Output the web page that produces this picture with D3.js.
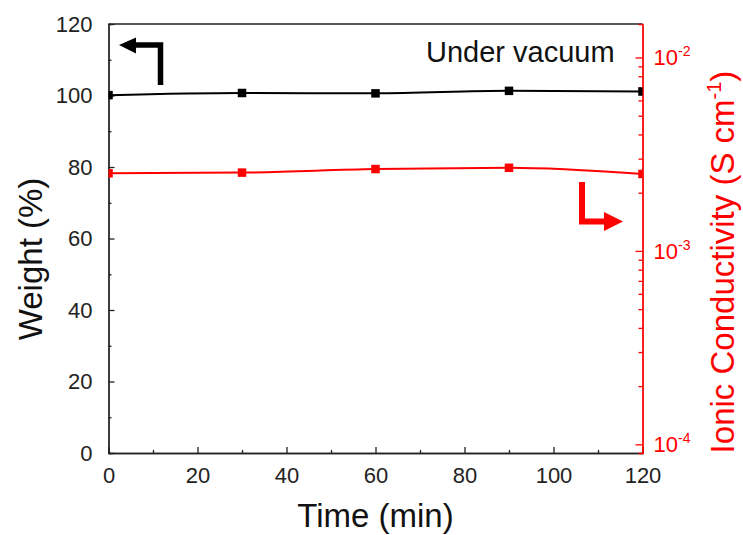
<!DOCTYPE html>
<html>
<head>
<meta charset="utf-8">
<script src="https://cdn.jsdelivr.net/npm/d3@7"></script>
<style>
  body { margin: 0; background: #fff; }
  svg { display: block; font-family: Arial, "Liberation Sans", sans-serif; }
</style>
</head>
<body>
<svg id="chart" width="743" height="535"></svg>
<script>
// 数据
const times = [0, 30, 60, 90, 120];
const weight = [100.1, 100.7, 100.6, 101.3, 101.1];
const conductivity = [2.52e-3, 2.54e-3, 2.65e-3, 2.69e-3, 2.50e-3];
const timeTicks = [0, 20, 40, 60, 80, 100, 120];
const weightTicks = [0, 20, 40, 60, 80, 100, 120];
const condTicks = [1e-4, 1e-3, 1e-2];

const W = 743, H = 535;
const margin = {top: 24, right: 100.5, bottom: 82, left: 108.5};
const red = "#ff0000";

const svg = d3.select("#chart");

const x = d3.scaleLinear().domain([0, 120]).range([margin.left, W - margin.right]);
const yL = d3.scaleLinear().domain([0, 120]).range([H - margin.bottom, margin.top]);
const yR = d3.scaleLog().domain([9.02e-5, 1.49e-2]).range([H - margin.bottom, margin.top]);

// 裁剪区域
svg.append("clipPath").attr("id", "clip")
  .append("rect")
  .attr("x", margin.left).attr("y", margin.top)
  .attr("width", W - margin.left - margin.right)
  .attr("height", H - margin.top - margin.bottom);

// 次刻度
const minorX = d3.range(10, 120, 20);
const minorL = d3.range(10, 120, 20);
const minorR = [];
[-5, -4, -3, -2].forEach(e => {
  for (let k = 2; k <= 9; k++) {
    const v = k * Math.pow(10, e);
    if (v > yR.domain()[0] && v < yR.domain()[1]) minorR.push(v);
  }
});

// 底部坐标轴
const gx = svg.append("g").attr("transform", `translate(0,${H - margin.bottom})`);
gx.call(d3.axisBottom(x).tickValues(timeTicks).tickSizeInner(-6).tickSizeOuter(0).tickPadding(14));
gx.append("g").call(d3.axisBottom(x).tickValues(minorX).tickSize(-3).tickFormat(""));
gx.selectAll("path, line").attr("stroke", "#222").attr("stroke-width", 1.3);
gx.selectAll("text").attr("fill", "#222").style("font-size", "22px");

// 左侧坐标轴
const gl = svg.append("g").attr("transform", `translate(${margin.left},0)`);
gl.call(d3.axisLeft(yL).tickValues(weightTicks).tickSizeInner(-6).tickSizeOuter(0).tickPadding(16));
gl.append("g").call(d3.axisLeft(yL).tickValues(minorL).tickSize(-3).tickFormat(""));
gl.selectAll("path, line").attr("stroke", "#222").attr("stroke-width", 1.3);
gl.selectAll("text").attr("fill", "#222").style("font-size", "22px");

// 顶部边框
svg.append("line")
  .attr("x1", margin.left).attr("x2", W - margin.right)
  .attr("y1", margin.top).attr("y2", margin.top)
  .attr("stroke", "#222").attr("stroke-width", 1.3);

// 右侧对数坐标轴
const gr = svg.append("g").attr("transform", `translate(${W - margin.right},0)`);
gr.call(d3.axisRight(yR).tickValues(condTicks).tickSizeInner(-7).tickSizeOuter(0).tickFormat(""));
gr.append("g").call(d3.axisRight(yR).tickValues(minorR).tickSize(-4).tickFormat(""));
gr.selectAll("path, line").attr("stroke", red).attr("stroke-width", 1.3);

const rLabels = gr.selectAll(".rlab").data(condTicks).enter().append("text")
  .attr("class", "rlab")
  .attr("x", 11)
  .attr("y", d => yR(d) + 8)
  .attr("fill", red)
  .style("font-size", "22px");
rLabels.append("tspan").text("10");
rLabels.append("tspan").attr("dy", -9).style("font-size", "14px")
  .text(d => "-" + Math.round(-Math.log10(d)));

// 坐标轴标题
svg.append("text")
  .attr("x", (margin.left + W - margin.right) / 2)
  .attr("y", 527)
  .attr("text-anchor", "middle")
  .attr("fill", "#111")
  .style("font-size", "33px")
  .text("Time (min)");

svg.append("text")
  .attr("transform", "translate(42,259) rotate(-90)")
  .attr("text-anchor", "middle")
  .attr("fill", "#111")
  .style("font-size", "33px")
  .text("Weight (%)");

const rTitle = svg.append("text")
  .attr("transform", "translate(734,262) rotate(-90)")
  .attr("text-anchor", "middle")
  .attr("fill", red)
  .style("font-size", "33px");
rTitle.append("tspan").text("Ionic Conductivity (S cm");
rTitle.append("tspan").attr("dy", -13).style("font-size", "20px").text("-1");
rTitle.append("tspan").attr("dy", 13).text(")");

// 数据线
const plot = svg.append("g").attr("clip-path", "url(#clip)");

const lineW = d3.line().x((d, i) => x(times[i])).y(d => yL(d)).curve(d3.curveMonotoneX);
const lineC = d3.line().x((d, i) => x(times[i])).y(d => yR(d)).curve(d3.curveMonotoneX);

plot.append("path").datum(weight)
  .attr("d", lineW).attr("fill", "none").attr("stroke", "#000").attr("stroke-width", 2);
plot.append("path").datum(conductivity)
  .attr("d", lineC).attr("fill", "none").attr("stroke", red).attr("stroke-width", 2);

const ms = 8.5;
plot.selectAll(".mw").data(weight).enter().append("rect")
  .attr("x", (d, i) => x(times[i]) - ms / 2)
  .attr("y", d => yL(d) - ms / 2)
  .attr("width", ms).attr("height", ms).attr("fill", "#000");
plot.selectAll(".mc").data(conductivity).enter().append("rect")
  .attr("x", (d, i) => x(times[i]) - ms / 2)
  .attr("y", d => yR(d) - ms / 2)
  .attr("width", ms).attr("height", ms).attr("fill", red);

// 注释文字
svg.append("text")
  .attr("x", 426).attr("y", 62)
  .attr("fill", "#111")
  .style("font-size", "29px")
  .text("Under vacuum");

// 指示箭头 (左: 重量, 右: 电导率)
svg.append("path")
  .attr("d", "M160.5,85 L160.5,45 L134,45")
  .attr("fill", "none").attr("stroke", "#000").attr("stroke-width", 5.5);
svg.append("path")
  .attr("d", "M119,45 L136,37.5 L136,53.5 Z")
  .attr("fill", "#000");

svg.append("path")
  .attr("d", "M582,182 L582,221.5 L606,221.5")
  .attr("fill", "none").attr("stroke", red).attr("stroke-width", 6);
svg.append("path")
  .attr("d", "M623,221.5 L604,212 L604,231 Z")
  .attr("fill", red);
</script>
</body>
</html>
